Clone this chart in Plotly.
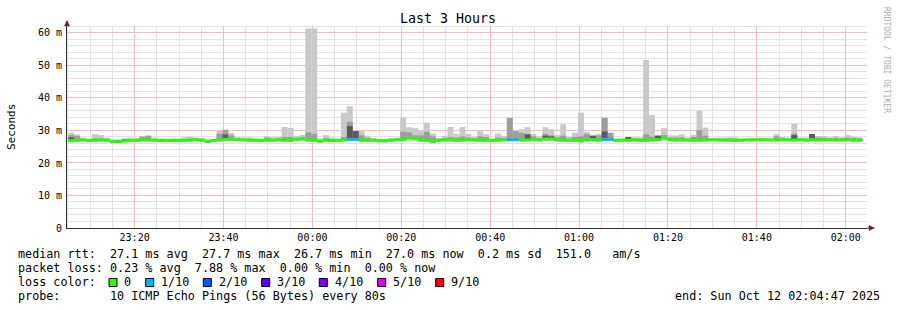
import pandas as pd
import plotly.graph_objects as go

# ---------------- data ----------------
title_text = "Last 3 Hours"
x_start = "2025-10-11 23:04:47"
x_end = "2025-10-12 02:04:47"
first_bin = "2025-10-11 23:05:05"
step_seconds = 80

y_tick_vals = [0, 10, 20, 30, 40, 50, 60]
y_tick_text = ["0", "10 m", "20 m", "30 m", "40 m", "50 m", "60 m"]
y_max = 62.15

# median rtt per 80 s step (ms)
median = [
    26.9, 27.0, 27.1, 27.0, 27.0, 27.1, 27.0, 26.7, 26.7, 26.8,
    26.9, 27.0, 27.1, 27.1, 27.0, 27.0, 26.9, 27.0, 27.0, 26.9,
    27.0, 27.2, 27.0, 26.7, 26.9, 27.1, 27.3, 27.3, 27.2, 27.1,
    27.0, 27.0, 26.9, 27.0, 27.0, 27.1, 27.0, 27.0, 27.3, 27.4,
    27.1, 27.0, 26.7, 27.0, 26.9, 27.0, 27.1, 27.3, 27.3, 27.0,
    27.0, 27.0, 26.8, 26.8, 27.0, 27.1, 27.2, 27.7, 27.5, 27.1,
    27.0, 26.6, 27.0, 27.1, 27.1, 27.0, 27.0, 27.2, 27.1, 27.0,
    27.0, 26.9, 27.0, 27.1, 27.2, 27.2, 27.1, 27.1, 27.2, 27.1,
    27.4, 27.4, 27.1, 27.0, 27.0, 26.9, 26.8, 27.1, 27.2, 27.0,
    27.3, 27.3, 27.0, 27.0, 27.0, 27.1, 27.0, 26.9, 27.1, 27.2,
    27.6, 27.2, 27.1, 27.1, 27.0, 27.0, 27.0, 27.1, 27.2, 27.1,
    27.0, 27.0, 26.9, 27.0, 27.1, 27.1, 27.1, 27.2, 27.1, 27.1,
    27.2, 27.1, 27.1, 27.2, 27.0, 27.2, 27.1, 27.1, 27.2, 27.1,
    27.1, 27.1, 27.0, 27.0,
]

# lost pings out of 10 per step
loss = [
    0, 0, 0, 0, 0, 0, 0, 0, 0, 0,
    0, 0, 0, 0, 0, 0, 0, 0, 0, 0,
    0, 0, 0, 0, 0, 0, 0, 0, 0, 0,
    0, 0, 0, 0, 0, 0, 0, 0, 0, 0,
    0, 0, 0, 0, 0, 0, 0, 1, 1, 0,
    0, 0, 0, 0, 0, 0, 0, 0, 0, 0,
    0, 0, 0, 0, 0, 0, 0, 0, 0, 0,
    0, 0, 0, 0, 1, 1, 0, 0, 0, 0,
    0, 0, 0, 0, 0, 0, 0, 0, 0, 0,
    1, 1, 0, 0, 0, 0, 0, 0, 0, 0,
    0, 0, 0, 0, 0, 0, 0, 0, 0, 0,
    0, 0, 0, 0, 0, 0, 0, 0, 0, 0,
    0, 0, 0, 0, 0, 0, 0, 0, 0, 0,
    0, 0, 0, 0,
]

# smoke: lowest ping, upper edge of middle pings, highest ping, dark core
smoke_lo = [
    26.3, 26.4, 26.5, 26.5, 26.4, 26.5, 26.5, 26.2, 26.2, 26.3,
    26.4, 26.5, 26.5, 26.5, 26.5, 26.5, 26.4, 26.5, 26.5, 26.4,
    26.5, 26.6, 26.5, 26.2, 26.4, 26.5, 26.7, 26.7, 26.6, 26.6,
    26.5, 26.5, 26.4, 26.5, 26.5, 26.6, 26.5, 26.5, 26.7, 26.8,
    26.5, 26.4, 26.2, 26.5, 26.4, 26.5, 26.5, 26.7, 26.7, 26.4,
    26.5, 26.5, 26.3, 26.3, 26.5, 26.6, 26.6, 27.0, 26.9, 26.5,
    26.4, 26.0, 26.4, 26.5, 26.5, 26.4, 26.5, 26.6, 26.6, 26.5,
    26.4, 26.4, 26.5, 26.6, 26.6, 26.6, 26.5, 26.5, 26.6, 26.6,
    26.8, 26.8, 26.5, 26.5, 26.5, 26.4, 26.3, 26.5, 26.6, 26.5,
    26.7, 26.7, 26.5, 26.5, 26.5, 26.5, 26.4, 26.4, 26.5, 26.6,
    27.0, 26.6, 26.5, 26.5, 26.5, 26.5, 26.4, 26.5, 26.6, 26.5,
    26.5, 26.5, 26.4, 26.5, 26.6, 26.5, 26.6, 26.6, 26.5, 26.5,
    26.6, 26.6, 26.5, 26.6, 26.5, 26.6, 26.5, 26.6, 26.6, 26.5,
    26.5, 26.6, 26.5, 26.5,
]

smoke_mid = [
    28.6, 28.3, 27.4, 27.3, 27.6, 27.6, 27.4, 26.9, 26.9, 27.2,
    27.3, 27.3, 28.1, 28.4, 27.4, 27.3, 27.2, 27.3, 27.3, 27.4,
    27.5, 27.5, 27.4, 27.0, 27.2, 29.0, 30.2, 28.5, 27.5, 27.4,
    27.4, 27.4, 27.3, 27.8, 27.4, 27.5, 28.0, 28.0, 27.7, 27.9,
    29.4, 29.0, 27.1, 27.6, 27.4, 27.3, 28.0, 32.7, 29.8, 28.5,
    27.7, 27.4, 27.2, 27.2, 27.4, 27.5, 29.6, 29.4, 28.5, 28.5,
    29.6, 28.2, 27.4, 27.6, 28.0, 27.8, 28.2, 27.8, 27.6, 28.2,
    28.0, 27.3, 27.8, 27.6, 33.9, 29.8, 29.3, 28.9, 28.2, 27.6,
    29.0, 28.5, 27.9, 28.4, 27.5, 28.0, 28.2, 28.9, 28.4, 28.5,
    33.9, 29.3, 27.3, 27.4, 27.6, 27.5, 27.5, 28.8, 28.2, 28.4,
    28.6, 27.8, 27.8, 27.9, 27.5, 28.0, 30.1, 28.4, 27.5, 27.5,
    27.5, 27.5, 27.5, 27.4, 27.4, 27.5, 27.5, 27.4, 27.4, 28.2,
    27.7, 27.5, 29.0, 27.5, 27.5, 28.9, 27.8, 27.7, 27.6, 27.7,
    27.6, 27.8, 27.7, 27.6,
]

smoke_hi = [
    29.4, 28.8, 27.8, 27.4, 28.9, 28.6, 27.8, 27.1, 27.1, 27.6,
    27.8, 27.7, 28.1, 28.4, 27.8, 27.4, 27.4, 27.5, 27.4, 27.9,
    28.1, 27.8, 27.7, 27.2, 27.4, 30.0, 30.2, 29.3, 27.9, 27.9,
    27.9, 27.6, 27.6, 28.3, 28.0, 28.0, 31.1, 30.8, 28.3, 28.6,
    61.4, 61.4, 27.6, 28.6, 27.8, 27.4, 35.5, 37.5, 29.8, 29.8,
    28.4, 27.7, 27.4, 27.4, 27.7, 27.8, 33.9, 31.0, 30.7, 29.8,
    32.4, 29.1, 27.6, 28.4, 31.1, 28.9, 31.1, 28.9, 28.1, 29.8,
    28.9, 27.6, 29.1, 28.4, 33.9, 29.8, 30.4, 31.0, 28.9, 28.1,
    31.0, 30.4, 28.6, 31.9, 28.1, 29.3, 35.5, 29.6, 28.4, 28.9,
    33.9, 29.3, 27.5, 27.6, 28.0, 27.9, 27.9, 51.7, 34.8, 28.4,
    30.7, 28.5, 28.5, 28.8, 27.8, 28.6, 36.1, 30.9, 27.6, 27.8,
    27.8, 27.9, 27.9, 27.6, 27.4, 27.7, 27.8, 27.6, 27.5, 28.9,
    28.0, 27.8, 32.0, 27.8, 27.8, 28.9, 28.3, 28.3, 27.9, 28.3,
    27.9, 28.6, 28.1, 27.9,
]

smoke_dark = [
    27.9, None, None, None, None, None, None, None, None, 27.3,
    None, None, None, None, None, None, None, None, None, None,
    None, None, None, None, None, None, 28.8, None, None, None,
    None, None, None, None, None, None, None, None, None, None,
    None, None, None, None, None, None, None, 31.4, 29.8, None,
    None, None, None, None, None, None, None, 28.0, None, None,
    None, None, None, None, None, None, None, None, None, None,
    None, None, None, None, None, None, None, 28.8, None, None,
    28.4, 28.2, None, None, None, None, None, None, 28.4, None,
    29.7, None, None, None, 28.0, None, None, None, None, 28.4,
    None, None, None, None, None, None, None, None, None, None,
    None, None, None, None, None, None, None, None, None, None,
    None, None, 28.6, None, None, 28.9, None, None, None, None,
    None, None, None, None,
]

loss_labels = ["0", "1/10", "2/10", "3/10", "4/10", "5/10", "9/10"]
loss_colors = ["#26ff00", "#00b8ff", "#0059ff", "#5e00ff", "#7e00ff", "#dd00ff", "#ff0000"]

legend_median = "median rtt:  27.1 ms avg  27.7 ms max  26.7 ms min  27.0 ms now  0.2 ms sd  151.0   am/s"
legend_loss = "packet loss: 0.23 % avg  7.88 % max  0.00 % min  0.00 % now"
legend_probe = "probe:       10 ICMP Echo Pings (56 Bytes) every 80s"
legend_end = "end: Sun Oct 12 02:04:47 2025"

# ---------------- geometry helpers ----------------
W, H = 897, 310
L, R, T, B = 67, 30, 26, 82
PW, PH = W - L - R, H - T - B
MONO = "DejaVu Sans Mono"
t0 = pd.Timestamp(x_start)
t1 = pd.Timestamp(x_end)


def px(x):
    return (x - L) / PW


def py(y):
    return (H - B - y) / PH


def crisp(v):
    return int(v) + 0.5


def screen_x_to_time(sx):
    return t0 + (sx - L) / PW * (t1 - t0)


def screen_y_to_val(sy):
    return (H - B - sy) / PH * y_max


fig = go.Figure()

# ---------------- smoke and median ----------------
n = len(median)
centers = pd.date_range(first_bin, periods=n, freq=f"{step_seconds}s") + pd.Timedelta(seconds=step_seconds / 2)
bar_w = step_seconds * 1000

fig.add_trace(go.Bar(
    x=centers, base=smoke_lo, y=[h - l for h, l in zip(smoke_hi, smoke_lo)],
    width=bar_w, marker=dict(color="#c9c9c9", line=dict(width=0)), hoverinfo="skip"))
mid_base = [m - 0.3 for m in median]
fig.add_trace(go.Bar(
    x=centers, base=mid_base, y=[t - b for t, b in zip(smoke_mid, mid_base)],
    width=bar_w, marker=dict(color="#9d9d9d", line=dict(width=0)), hoverinfo="skip"))
dark_base = [m - 0.2 for m in median]
fig.add_trace(go.Bar(
    x=centers, base=dark_base,
    y=[(d - b) if d is not None else None for d, b in zip(smoke_dark, dark_base)],
    width=bar_w, marker=dict(color="#5a5a5a", line=dict(width=0)), hoverinfo="skip"))
color_by_loss = {0: loss_colors[0], 1: loss_colors[1], 2: loss_colors[2], 3: loss_colors[3],
                 4: loss_colors[4], 5: loss_colors[5], 9: loss_colors[6]}
fig.add_trace(go.Bar(
    x=centers, base=[m - 0.45 for m in median], y=[0.9] * n,
    width=bar_w, marker=dict(color=[color_by_loss.get(v, loss_colors[6]) for v in loss], line=dict(width=0)),
    hoverinfo="skip"))

fig.update_layout(
    width=W, height=H,
    margin=dict(l=L, r=R, t=T, b=B, pad=0),
    paper_bgcolor="white", plot_bgcolor="white",
    barmode="overlay", showlegend=False,
    font=dict(family=MONO, color="black", size=10),
    xaxis=dict(
        type="date", range=[x_start, x_end],
        tickformat="%H:%M", tick0="2025-10-11 23:20:00", dtick=20 * 60 * 1000,
        showgrid=False, showline=True, linecolor="#303030", linewidth=1,
        ticks="", tickfont=dict(family=MONO, size=10, color="black"),
        zeroline=False, fixedrange=True,
    ),
    yaxis=dict(
        range=[0, y_max],
        tickmode="array", tickvals=y_tick_vals, ticktext=y_tick_text,
        showgrid=False, showline=True, linecolor="#303030", linewidth=1,
        ticks="outside", ticklen=2, tickcolor="rgba(0,0,0,0)",
        tickfont=dict(family=MONO, size=10, color="black"),
        zeroline=False, fixedrange=True,
    ),
)

# ---------------- grid: axis-referenced shapes beneath the traces ----------------
shapes = []
major_col = "#f0bcbc"
minor_col = "#e2e2e2"

grid_times = pd.date_range("2025-10-11 23:05:00", "2025-10-12 02:00:00", freq="5min")
minor_vals = [v for v in range(2, 63, 2) if v % 10 != 0]
major_vals = [v for v in range(10, 63, 10)]


def add_v(gt, col):
    xpos = L + (gt - t0) / (t1 - t0) * PW
    tx = screen_x_to_time(crisp(xpos))
    shapes.append(dict(type="line", xref="x", yref="y", layer="between",
                       x0=tx, x1=tx, y0=0, y1=y_max,
                       line=dict(color=col, width=1)))


def add_h(v, col):
    ypos = (H - B) - v / y_max * PH
    yv = screen_y_to_val(crisp(ypos))
    shapes.append(dict(type="line", xref="x", yref="y", layer="between",
                       x0=t0, x1=t1, y0=yv, y1=yv,
                       line=dict(color=col, width=1)))


for gt in grid_times:
    if gt.minute % 20 != 0:
        add_v(gt, minor_col)
for v in minor_vals:
    add_h(v, minor_col)
for gt in grid_times:
    if gt.minute % 20 == 0:
        add_v(gt, major_col)
for v in major_vals:
    add_h(v, major_col)

ann = []


def text(x, y, s, size=11.75, xanchor="left", color="black", angle=0):
    ann.append(dict(x=px(x), y=py(y), xref="paper", yref="paper", text=s, showarrow=False,
                    xanchor=xanchor, yanchor="middle", borderpad=0, textangle=angle,
                    font=dict(family=MONO, size=size, color=color)))


text(448, 19, title_text, size=13.3, xanchor="center")
text(11, 127, "Seconds", size=11, xanchor="center", angle=-90)
text(887, 60, "RRDTOOL / TOBI OETIKER", size=8, xanchor="center", color="#b0b0b0", angle=90)

text(16.5, 254.5, legend_median)
text(16.5, 268.3, legend_loss)
text(16.5, 282.2, "loss color:")
text(16.5, 296, legend_probe)
text(880.5, 296, legend_end, xanchor="right")

square_x = [109, 145.7, 203.3, 261.7, 319.3, 377.7, 435.7]
for sx, lab, col in zip(square_x, loss_labels, loss_colors):
    shapes.append(dict(type="rect", xref="paper", yref="paper",
                       x0=px(sx), x1=px(sx + 8), y0=py(286.5), y1=py(278.5),
                       fillcolor=col, line=dict(color="black", width=1)))
    text(sx + 14.3, 282.2, lab)

arrow_col = "#7a1a1a"
shapes.append(dict(type="line", xref="paper", yref="paper", x0=px(67), x1=px(67), y0=py(26), y1=py(23),
                   line=dict(color="#303030", width=1)))
shapes.append(dict(type="path", xref="paper", yref="paper",
                   path=f"M {px(64.5)},{py(26)} L {px(67)},{py(20.5)} L {px(69.5)},{py(26)} Z",
                   fillcolor=arrow_col, line=dict(color=arrow_col, width=0.5)))
shapes.append(dict(type="line", xref="paper", yref="paper", x0=px(867), x1=px(870), y0=py(228), y1=py(228),
                   line=dict(color="#303030", width=1)))
shapes.append(dict(type="path", xref="paper", yref="paper",
                   path=f"M {px(869)},{py(225.5)} L {px(874.5)},{py(228)} L {px(869)},{py(230.5)} Z",
                   fillcolor=arrow_col, line=dict(color=arrow_col, width=0.5)))

fig.update_layout(annotations=ann, shapes=shapes)

fig.write_html("out.html")
